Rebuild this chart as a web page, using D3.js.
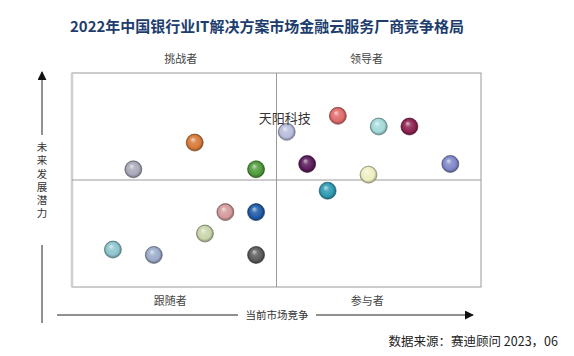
<!DOCTYPE html>
<html><head><meta charset="utf-8">
<script src="https://cdn.jsdelivr.net/npm/d3@7/dist/d3.min.js"></script>
<style>
html,body{margin:0;padding:0;background:#fff;}
svg{display:block;font-family:"Noto Sans CJK SC","Noto Sans",sans-serif;}
</style></head>
<body>
<svg id="chart" width="574" height="356"></svg>
<script>
const title = "2022年中国银行业IT解决方案市场金融云服务厂商竞争格局";
const quadrantLabels = ["挑战者", "领导者", "跟随者", "参与者"];
const xAxisTitle = "当前市场竞争";
const yAxisTitle = "未来发展潜力";
const source = "数据来源：赛迪顾问 2023，06";
const vendorNames = ["天阳科技", "", "", "", "", "", "", "", "", "", "", "", "", "", "", "", ""];
const xValues = [5.25, 6.5, 7.5, 8.25, 3.0, 1.5, 4.5, 5.75, 7.25, 9.25, 6.25, 3.75, 4.5, 3.25, 1.0, 2.0, 4.5];
const yValues = [7.25, 8.0, 7.5, 7.5, 6.75, 5.5, 5.5, 5.75, 5.25, 5.75, 4.5, 3.5, 3.5, 2.5, 1.75, 1.5, 1.5];
const ballColors = ["#b9bddc", "#e06a6a", "#a2d9d8", "#8c2150", "#d77a38", "#a9a9ba", "#4f9b3b", "#5b1b5c", "#efefc2", "#7f87c9", "#2e9ab2", "#d39a9b", "#1f5aa8", "#c9d5aa", "#8dc5cd", "#9babc9", "#5b5b5b"];

const svg = d3.select("#chart");
const box = {left: 72, right: 481, top: 73, bottom: 287};
const x = d3.scaleLinear().domain([0, 10]).range([box.left, box.right]);
const y = d3.scaleLinear().domain([0, 10]).range([box.bottom, box.top]);

// title
svg.append("text").attr("x", 70).attr("y", 32)
  .attr("font-size", 15).attr("font-weight", "bold").attr("fill", "#1c3d6e")
  .attr("textLength", 394).attr("lengthAdjust", "spacingAndGlyphs")
  .text(title);

// box
svg.append("rect").attr("x", x(0)).attr("y", y(10)).attr("width", x(10) - x(0)).attr("height", y(0) - y(10))
  .attr("fill", "none").attr("stroke", "#9a9a9a").attr("stroke-width", 1);
svg.append("line").attr("x1", x(0)).attr("x2", x(0)).attr("y1", y(10)).attr("y2", y(0))
  .attr("stroke", "#cfcfcf").attr("stroke-width", 2.5);
svg.append("line").attr("x1", x(5)).attr("x2", x(5)).attr("y1", y(10)).attr("y2", y(0))
  .attr("stroke", "#9a9a9a");
svg.append("line").attr("x1", x(0)).attr("x2", x(10)).attr("y1", y(5)).attr("y2", y(5))
  .attr("stroke", "#9a9a9a");

// quadrant labels
const qPos = [[2.66, 63], [7.2, 63], [2.4, 305], [7.22, 305]];
quadrantLabels.forEach((t, i) => {
  svg.append("text").attr("x", x(qPos[i][0])).attr("y", qPos[i][1])
    .attr("text-anchor", "middle").attr("font-size", 11).attr("fill", "#444").text(t);
});

// axes arrows
const defs = svg.append("defs");
defs.append("marker").attr("id", "arr").attr("viewBox", "0 0 10 10").attr("refX", 9).attr("refY", 5)
  .attr("markerWidth", 9).attr("markerHeight", 9).attr("markerUnits", "userSpaceOnUse").attr("orient", "auto")
  .append("path").attr("d", "M0,0L10,5L0,10Z").attr("fill", "#111");

// x axis
svg.append("line").attr("x1", 57).attr("x2", 238).attr("y1", 315).attr("y2", 315).attr("stroke", "#222");
svg.append("line").attr("x1", 316).attr("x2", 473).attr("y1", 315).attr("y2", 315).attr("stroke", "#222")
  .attr("marker-end", "url(#arr)");
svg.append("text").attr("x", 277).attr("y", 319).attr("text-anchor", "middle")
  .attr("font-size", 10.5).attr("fill", "#333").text(xAxisTitle);

// y axis
svg.append("line").attr("x1", 42).attr("x2", 42).attr("y1", 323).attr("y2", 245).attr("stroke", "#222");
svg.append("line").attr("x1", 42).attr("x2", 42).attr("y1", 135).attr("y2", 72).attr("stroke", "#222")
  .attr("marker-end", "url(#arr)");
svg.append("text").attr("x", 42).attr("y", 142)
  .style("writing-mode", "vertical-rl").attr("letter-spacing", 2.7)
  .attr("font-size", 10.5).attr("fill", "#333").text(yAxisTitle);

// balls
ballColors.forEach((c, i) => {
  const g = defs.append("radialGradient").attr("id", "g" + i)
    .attr("cx", "50%").attr("cy", "50%").attr("r", "50%").attr("fx", "38%").attr("fy", "30%");
  const base = d3.color(c);
  g.append("stop").attr("offset", "0%").attr("stop-color", d3.interpolateRgb(c, "#fff")(0.7));
  g.append("stop").attr("offset", "35%").attr("stop-color", d3.interpolateRgb(c, "#fff")(0.15));
  g.append("stop").attr("offset", "75%").attr("stop-color", c);
  g.append("stop").attr("offset", "100%").attr("stop-color", base.darker(1.2));
});

svg.append("g").selectAll("circle").data(xValues).join("circle")
  .attr("cx", (d) => x(d)).attr("cy", (d, i) => y(yValues[i])).attr("r", 8.5)
  .attr("fill", (d, i) => "url(#g" + i + ")")
  .attr("stroke", (d, i) => d3.color(ballColors[i]).darker(1.8)).attr("stroke-width", 0.6);

svg.append("g").selectAll("text").data(vendorNames.map((n, i) => ({n, i})).filter(d => d.n))
  .join("text")
  .attr("x", d => x(xValues[d.i]) - 2).attr("y", d => y(yValues[d.i]) - 9)
  .attr("text-anchor", "middle").attr("font-size", 13).attr("fill", "#333")
  .text(d => d.n);

// source
svg.append("text").attr("x", 558).attr("y", 346).attr("text-anchor", "end")
  .attr("font-size", 12.5).attr("fill", "#222").text(source);
</script>
</body></html>
